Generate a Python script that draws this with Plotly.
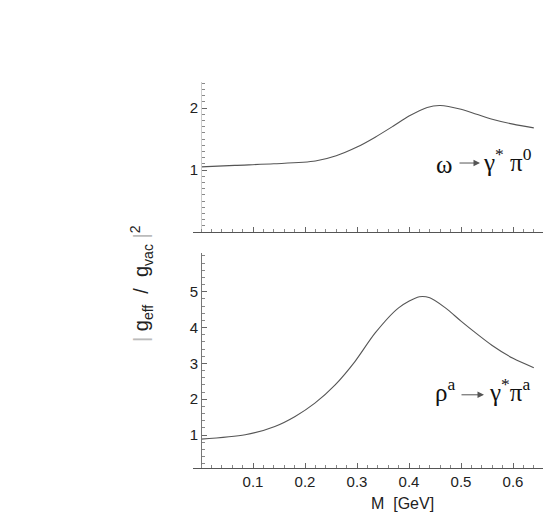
import plotly.graph_objects as go

# ---- data ----
m_omega = [0.00, 0.065, 0.14, 0.22, 0.26, 0.30, 0.335, 0.37, 0.40, 0.435, 0.46, 0.50, 0.53, 0.56, 0.60, 0.64]
g_omega = [1.05, 1.075, 1.10, 1.145, 1.23, 1.37, 1.53, 1.71, 1.87, 2.01, 2.04, 1.98, 1.90, 1.82, 1.74, 1.68]

m_rho = [0.00, 0.085, 0.142, 0.181, 0.219, 0.258, 0.296, 0.335, 0.38, 0.42, 0.44, 0.47, 0.50, 0.53, 0.56, 0.60, 0.64]
g_rho = [0.885, 1.006, 1.24, 1.52, 1.89, 2.40, 3.05, 3.85, 4.55, 4.86, 4.83, 4.55, 4.18, 3.83, 3.50, 3.14, 2.88]

x_ticks = [0.1, 0.2, 0.3, 0.4, 0.5, 0.6]
x_ticklabels = ["0.1", "0.2", "0.3", "0.4", "0.5", "0.6"]
y_top_ticks = [1, 2]
y_bot_ticks = [1, 2, 3, 4, 5]

SANS = "Liberation Sans, Arial, sans-serif"
SERIF = "Liberation Serif, Times New Roman, serif"
LINE = "#555555"

fig = go.Figure()
fig.add_trace(go.Scatter(x=m_omega, y=g_omega, mode="lines", xaxis="x2", yaxis="y2",
                         line=dict(color="#555555", width=1.1, shape="spline", smoothing=0.8), showlegend=False))
fig.add_trace(go.Scatter(x=m_rho, y=g_rho, mode="lines", xaxis="x", yaxis="y",
                         line=dict(color="#555555", width=1.1, shape="spline", smoothing=0.8), showlegend=False))

xr = [-0.0154, 0.6577]
ypos = 8 / 350

common_x = dict(range=xr, showline=True, linecolor=LINE, linewidth=1, zeroline=False, showgrid=False,
                ticks="inside", ticklen=5, tickcolor="#666", tickvals=x_ticks,
                minor=dict(dtick=0.02, tick0=0, ticks="inside", ticklen=3, tickcolor="#888", showgrid=False))

fig.update_layout(
    width=546, height=516,
    margin=dict(l=193, r=3, t=82, b=48),
    paper_bgcolor="white", plot_bgcolor="white",
    font=dict(family=SANS, size=15, color="#222"),
    xaxis=dict(domain=[0, 1], anchor="y", ticktext=x_ticklabels, **common_x),
    xaxis2=dict(domain=[0, 1], anchor="y2", showticklabels=False, **common_x),
    yaxis=dict(domain=[0, 215 / 386], anchor="free", position=ypos, range=[0.08, 6.08],
               showline=True, linecolor="#777", linewidth=1, zeroline=False, showgrid=False,
               ticks="inside", ticklen=5, tickcolor="#666", tickvals=y_bot_ticks,
               minor=dict(dtick=0.2, tick0=0, ticks="inside", ticklen=3, tickcolor="#888", showgrid=False)),
    yaxis2=dict(domain=[236 / 386, 1], anchor="free", position=ypos, range=[0, 2.42],
                showline=True, linecolor="#cccccc", linewidth=1, zeroline=False, showgrid=False,
                ticks="inside", ticklen=5, tickcolor="#666", tickvals=y_top_ticks,
                minor=dict(dtick=0.1, tick0=0, ticks="inside", ticklen=3, tickcolor="#888", showgrid=False)),
)

ann = []
# x axis title
ann.append(dict(text="M  [GeV]", xref="paper", yref="paper", x=(402 - 193) / 350, y=(468 - 503) / 386,
                xanchor="center", yanchor="middle", showarrow=False, font=dict(family=SANS, size=16, color="#222")))
# y axis title
ann.append(dict(text="<span style='color:#bbb'>|</span> g<sub>eff</sub>  /  g<sub>vac</sub> <span style='color:#bbb'>|</span><sup>2</sup>",
                xref="paper", yref="paper", x=(141 - 193) / 350, y=(468 - 284) / 386, textangle=-90,
                xanchor="center", yanchor="middle", showarrow=False, font=dict(family=SANS, size=20, color="#222")))

def px2m(p):
    return (p - 201) / 520

# top reaction label
ann.append(dict(text="ω", xref="x2", yref="y2", x=px2m(434), y=(232 - 164) / 62, xanchor="left", yanchor="middle",
                showarrow=False, font=dict(family=SERIF, size=25, color="#111")))
ann.append(dict(text="", xref="x2", yref="y2", x=px2m(480), y=(232 - 163) / 62, ax=-22, ay=0, showarrow=True,
                arrowhead=2, arrowsize=1.3, arrowwidth=1, arrowcolor="#555"))
ann.append(dict(text="γ<sup>*</sup> π<sup>0</sup>", xref="x2", yref="y2", x=px2m(481), y=(232 - 160) / 62,
                xanchor="left", yanchor="middle", showarrow=False, font=dict(family=SERIF, size=25, color="#111")))
# bottom reaction label
ann.append(dict(text="ρ<sup>a</sup>", xref="x", yref="y", x=px2m(433), y=(471 - 390) / 35.8, xanchor="left",
                yanchor="middle", showarrow=False, font=dict(family=SERIF, size=25, color="#111")))
ann.append(dict(text="", xref="x", yref="y", x=px2m(484), y=(471 - 395) / 35.8, ax=-24, ay=0, showarrow=True,
                arrowhead=2, arrowsize=1.3, arrowwidth=1, arrowcolor="#555"))
ann.append(dict(text="γ<sup>*</sup>π<sup>a</sup>", xref="x", yref="y", x=px2m(487), y=(471 - 390) / 35.8,
                xanchor="left", yanchor="middle", showarrow=False, font=dict(family=SERIF, size=25, color="#111")))
fig.update_layout(annotations=ann)

fig.write_html("out.html", config={"displayModeBar": False},
               post_script="document.body.style.margin='0';document.body.style.padding='0';")
